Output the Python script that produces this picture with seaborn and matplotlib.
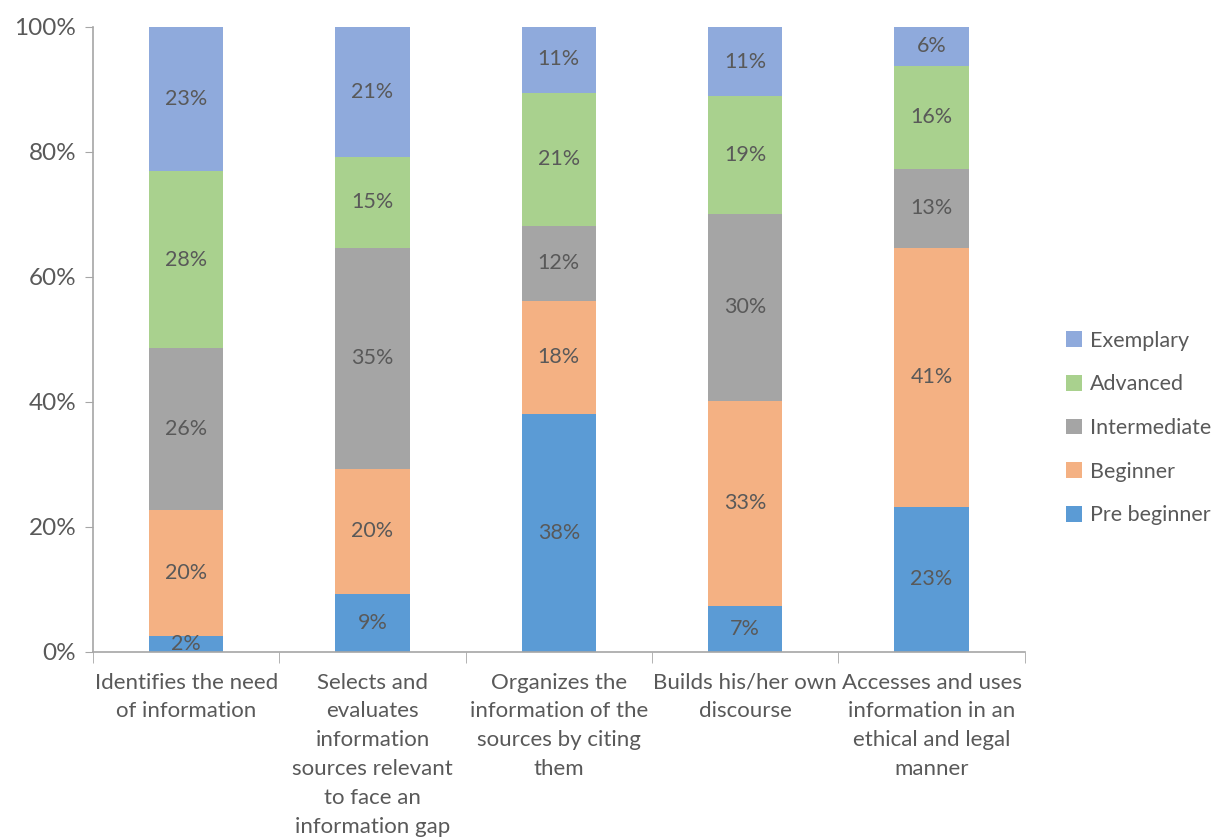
import numpy as np
import pandas as pd
import matplotlib
matplotlib.use("Agg")
import matplotlib.pyplot as plt
import seaborn as sns
from matplotlib.patches import Patch
from matplotlib.ticker import FixedLocator, PercentFormatter

categories = [
    "Identifies the need\nof information",
    "Selects and\nevaluates\ninformation\nsources relevant\nto face an\ninformation gap",
    "Organizes the\ninformation of the\nsources by citing\nthem",
    "Builds his/her own\ndiscourse",
    "Accesses and uses\ninformation in an\nethical and legal\nmanner",
]

levels = ["Pre beginner", "Beginner", "Intermediate", "Advanced", "Exemplary"]

pre_beginner = [2.5, 9.3, 38.1, 7.4, 23.2]
beginner = [20.2, 20.0, 18.1, 32.8, 41.4]
intermediate = [25.9, 35.3, 12.0, 29.8, 12.7]
advanced = [28.3, 14.6, 21.3, 18.9, 16.5]
exemplary = [23.1, 20.8, 10.6, 11.1, 6.2]

colors = ["#5B9BD5", "#F4B183", "#A5A5A5", "#A9D18E", "#8FAADC"]

text_color = "#595959"
axis_color = "#A6A6A6"

plt.rcParams["font.family"] = ["Lato", "DejaVu Sans"]

values = pd.DataFrame(
    [pre_beginner, beginner, intermediate, advanced, exemplary],
    index=levels,
    columns=categories,
).T

cumulative = values.cumsum(axis=1)

fig, ax = plt.subplots(figsize=(12.17, 8.4), dpi=100)
fig.subplots_adjust(left=0.0764, right=0.842, top=0.968, bottom=0.224)

# stack by drawing cumulative totals from the top layer down
for level, color in reversed(list(zip(levels, colors))):
    sns.barplot(
        x=cumulative.index,
        y=cumulative[level],
        color=color,
        width=0.4,
        saturation=1,
        ax=ax,
    )

for i, cat in enumerate(categories):
    for level in levels:
        mid = cumulative.loc[cat, level] - values.loc[cat, level] / 2
        ax.text(
            i, mid, f"{values.loc[cat, level]:.0f}%",
            ha="center", va="center",
            fontsize=15.5, color=text_color,
        )

ax.set_xlim(-0.5, 4.5)
ax.set_ylim(0, 100)
ax.set_yticks(np.arange(0, 101, 20))
ax.yaxis.set_major_formatter(PercentFormatter(decimals=0))

ax.set_xlabel("")
ax.set_ylabel("")

ax.xaxis.set_minor_locator(FixedLocator(np.arange(-0.5, 5, 1)))
ax.tick_params(axis="x", which="major", length=0, pad=15,
               labelsize=16, labelcolor=text_color)
ax.tick_params(axis="x", which="minor", length=8, color=axis_color)
ax.tick_params(axis="y", length=6, color=axis_color,
               labelsize=17.5, labelcolor=text_color, pad=6)

for label in ax.get_xticklabels():
    label.set_linespacing(1.55)

for side in ["top", "right"]:
    ax.spines[side].set_visible(False)
for side in ["left", "bottom"]:
    ax.spines[side].set_color(axis_color)
    ax.spines[side].set_linewidth(1.2)

handles = [Patch(facecolor=c, label=l) for l, c in zip(levels, colors)]
fig.legend(
    handles=list(reversed(handles)),
    loc="center left",
    bbox_to_anchor=(1066 / 1217, 1 - 428 / 840),
    frameon=False,
    fontsize=15.5,
    labelcolor=text_color,
    borderpad=0,
    borderaxespad=0,
    handlelength=0.75,
    handleheight=0.75,
    handletextpad=0.35,
    labelspacing=1.1,
)

plt.savefig("out.png", dpi=100)
plt.close()
